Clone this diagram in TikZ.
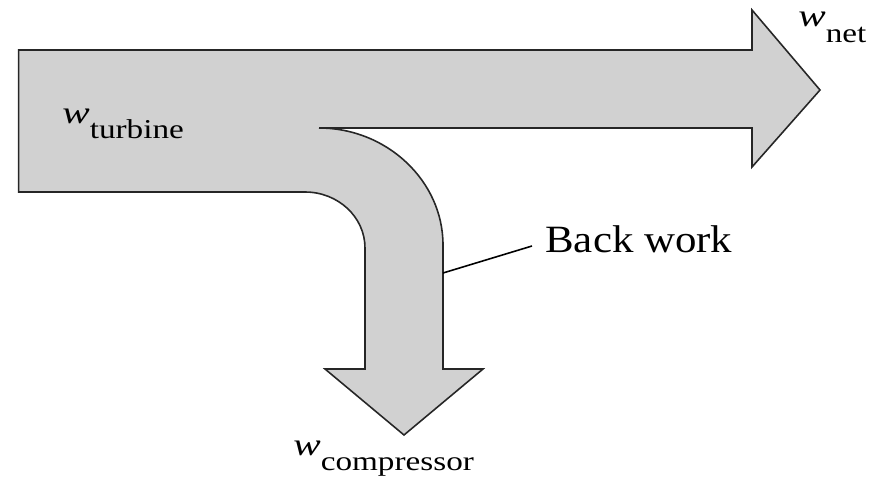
\documentclass[tikz,border=0pt]{standalone}
\usepackage{graphicx}
\usepackage{fontspec}
\setmainfont{Liberation Serif}
\usetikzlibrary{positioning}
\newcommand{\worklabel}[1]{\scalebox{1.3}[1]{\fontsize{18}{20}\selectfont\textit{w}}%
  \raisebox{-0.31cm}{\scalebox{1.22}[1]{\fontsize{15.5}{18}\selectfont #1}}}

\begin{document}
\begin{tikzpicture}[x=0.02cm,y=-0.02cm,
  flow/.style={draw=black!85,line width=0.9pt,fill=black!18,line join=miter},
  lbl/.style={inner sep=0pt,anchor=base west},
  leader/.style={draw=black,line width=0.9pt},
]
  \useasboundingbox (0,0) rectangle (881,483);

  % split flow arrow: turbine work into net work and back work
  \draw[flow] (18.6,50) -- (752,50) -- (752,10) -- (820,90) -- (752,167) -- (752,128)
    -- (319,128) .. controls (387,128) and (443,181) .. (443,245)
    -- (443,369) -- (483,369) -- (404,435) -- (325,369) -- (365,369)
    -- (365,248) .. controls (365,217) and (338,192) .. (305,192)
    -- (18.6,192) -- cycle;

  \node[lbl] (turbine) at (62,123) {\worklabel{turbine}};
  \node[lbl] (net) at (798,27) {\worklabel{net}};
  \node[lbl] (compressor) at (293,455) {\worklabel{compressor}};
  \node[lbl] (backwork) at (545,252) {\scalebox{1.11}[1]{\fontsize{22}{26}\selectfont Back work}};

  \coordinate (bwfoot) at (443,273);
  \draw[leader] (bwfoot) -- ([shift={(-13,-6)}]backwork.base west);
\end{tikzpicture}
\end{document}
